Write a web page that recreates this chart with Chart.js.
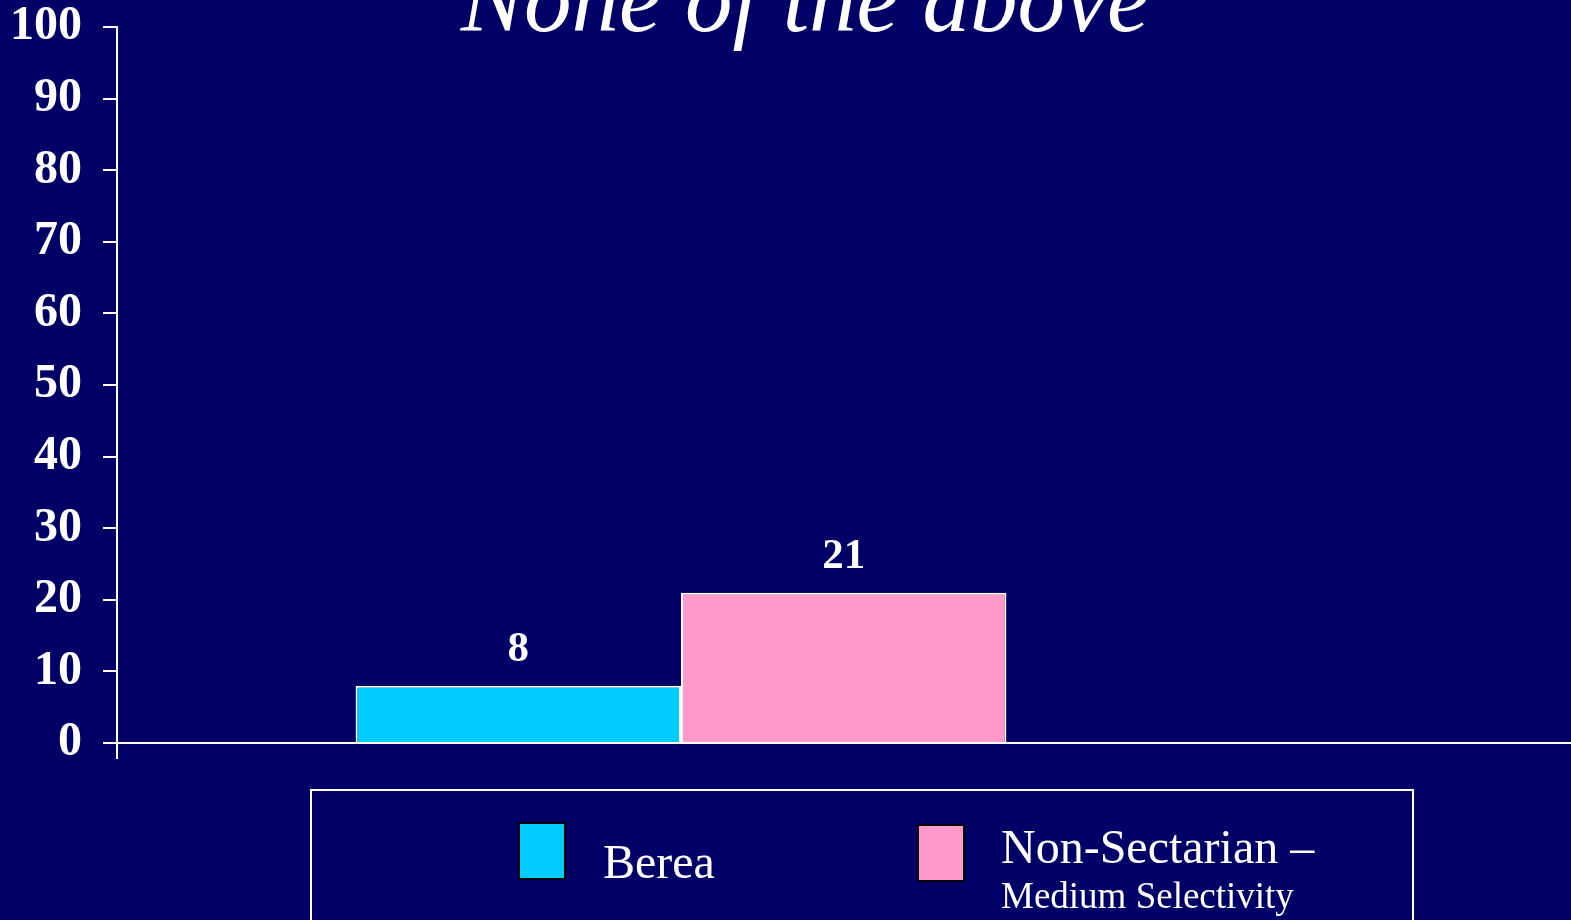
<!DOCTYPE html>
<html lang="en">
<head>
  <meta charset="UTF-8" />
  <title>None of the above</title>
  <script src="https://cdn.jsdelivr.net/npm/chart.js"></script>
  <style>
    body { margin: 0; background: #000066; overflow: hidden; font-family: "Liberation Serif", "Times New Roman", serif; }
    #wrap { position: relative; width: 1571px; height: 920px; }
    #titre {
      position: absolute; left: 305px; top: -48px; width: 1000px; text-align: center;
      color: white; font-style: italic; font-size: 95px; line-height: 1; white-space: nowrap;
    }
    #legende {
      position: absolute; left: 310px; top: 789px; width: 1104px; height: 200px;
      border: 2px solid white; box-sizing: border-box;
    }
    .carre { position: absolute; width: 48px; height: 58px; border: 2px solid black; box-sizing: border-box; }
    .txt { position: absolute; color: white; line-height: 1; white-space: nowrap; }
  </style>
</head>
<body>
<div id="wrap">
  <canvas id="graf" width="1571" height="920"></canvas>
  <div id="titre">None of the above</div>
  <div id="legende"></div>
</div>
<script>
const categories = ['None of the above'];
const series = ['Berea', 'Non-Sectarian – Medium Selectivity'];
const bereaValues = [8];
const nonSectValues = [21];
const colors = ['#00CCFF', '#FF99CC'];
const yTicks = [0, 10, 20, 30, 40, 50, 60, 70, 80, 90, 100];

// legend drawn as html (two font sizes in the second entry)
const leg = document.getElementById('legende');
leg.innerHTML =
  '<div class="carre" style="left:206px;top:31px;background:' + colors[0] + '"></div>' +
  '<div class="txt" style="left:291px;top:47px;font-size:48px">' + series[0] + '</div>' +
  '<div class="carre" style="left:605px;top:33px;background:' + colors[1] + '"></div>' +
  '<div class="txt" style="left:689px;top:32px;font-size:48px">Non-Sectarian –</div>' +
  '<div class="txt" style="left:689px;top:86px;font-size:37px">Medium Selectivity</div>';

const etiquettes = {
  id: 'etiquettes',
  afterDatasetsDraw(chart) {
    const ctx = chart.ctx;
    ctx.save();
    ctx.fillStyle = 'white';
    ctx.font = 'bold 43px "Liberation Serif"';
    ctx.textAlign = 'center';
    ctx.textBaseline = 'alphabetic';
    chart.data.datasets.forEach((ds, i) => {
      chart.getDatasetMeta(i).data.forEach((el, j) => {
        ctx.fillText(ds.data[j], el.x, el.y - 25);
      });
    });
    // x axis line continues to the right edge
    const y0 = chart.scales.y.getPixelForValue(0);
    ctx.strokeStyle = 'white';
    ctx.lineWidth = 2;
    ctx.beginPath();
    ctx.moveTo(chart.chartArea.right - 1, y0);
    ctx.lineTo(chart.width, y0);
    ctx.stroke();
    ctx.restore();
  }
};

new Chart(document.getElementById('graf'), {
  type: 'bar',
  data: {
    labels: categories,
    datasets: [
      { label: series[0], data: bereaValues, backgroundColor: colors[0], borderColor: 'white', borderWidth: 2 },
      { label: series[1], data: nonSectValues, backgroundColor: colors[1], borderColor: 'white', borderWidth: 2 }
    ]
  },
  options: {
    responsive: false,
    animation: false,
    layout: { padding: { top: 27, right: 326, left: 0, bottom: 0 } },
    datasets: { bar: { categoryPercentage: 0.577, barPercentage: 1 } },
    plugins: { legend: { display: false }, title: { display: false }, tooltip: { enabled: false } },
    scales: {
      x: {
        offset: true,
        ticks: { display: false },
        grid: {
          offset: true, drawOnChartArea: false, drawTicks: true, tickLength: 16, lineWidth: 2,
          color: ctx => ctx.index === 0 ? 'white' : 'rgba(0,0,0,0)'
        },
        border: { display: true, color: 'white', width: 2 },
        afterFit: s => { s.height = 177; }
      },
      y: {
        min: 0, max: 100,
        afterBuildTicks: s => { s.ticks = yTicks.map(v => ({ value: v })); },
        ticks: { color: 'white', font: { family: 'Liberation Serif', weight: 'bold', size: 48 }, padding: 21 },
        grid: { drawOnChartArea: false, drawTicks: true, tickLength: 14, color: 'white', lineWidth: 2 },
        border: { display: true, color: 'white', width: 2 },
        afterFit: s => { s.width = 117; s.paddingTop = 0; s.paddingBottom = 0; }
      }
    }
  },
  plugins: [etiquettes]
});
</script>
</body>
</html>
